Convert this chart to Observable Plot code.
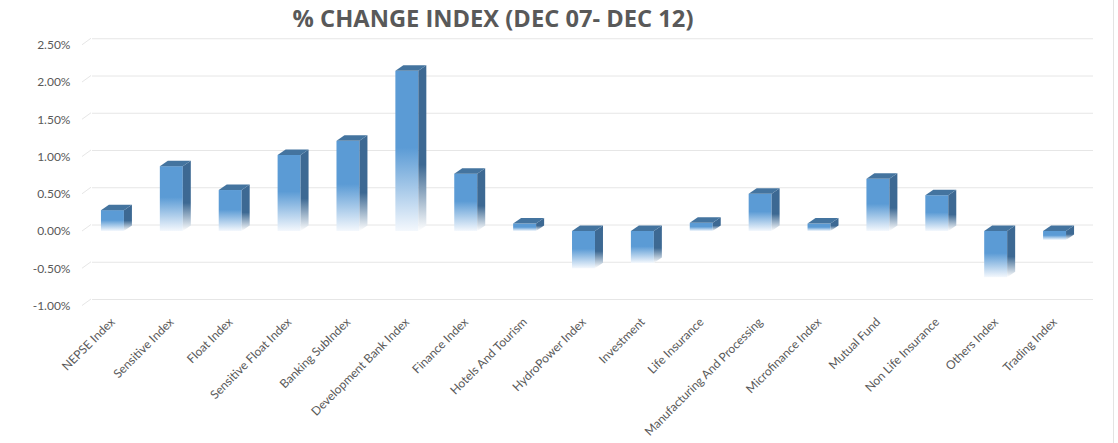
<!DOCTYPE html>
<html><head><meta charset="utf-8">
<script src="https://cdn.jsdelivr.net/npm/d3@7"></script>
<script src="https://cdn.jsdelivr.net/npm/@observablehq/plot@0.6"></script>
<style>
html,body{margin:0;padding:0;background:#fff;}
#wrap{position:relative;width:1118px;height:443px;overflow:hidden;background:#fff;}
#title{width:986px;height:36px;box-sizing:border-box;padding-top:4px;text-align:center;font-family:"Open Sans",sans-serif;font-weight:700;font-size:23.7px;line-height:28px;color:#595959;white-space:nowrap;}
#border{position:absolute;left:1113px;top:0;width:1px;height:443px;background:#e3e3e3;}
</style></head>
<body>
<div id="wrap"><div id="title">% CHANGE INDEX (DEC 07- DEC 12)</div><div id="chart"></div><div id="border"></div></div>
<script>
const categories = ["NEPSE Index","Sensitive Index","Float Index","Sensitive Float Index","Banking SubIndex","Development Bank Index","Finance Index","Hotels And Tourism","HydroPower Index","Investment","Life Insurance","Manufacturing And Processing","Microfinance Index","Mutual Fund","Non Life Insurance","Others Index","Trading Index"];
const values = [0.28, 0.87, 0.55, 1.02, 1.21, 2.15, 0.77, 0.10, -0.50, -0.43, 0.11, 0.50, 0.10, 0.70, 0.48, -0.62, -0.12];
const yTicks = [-1, -0.5, 0, 0.5, 1, 1.5, 2, 2.5];

const data = categories.map((name, i) => ({name, value: values[i]}));
const DX = 8, DY = -5.5;       // bar depth
const GX = 9, GY = -6.5;       // back wall offset

const chart = Plot.plot({
  width: 1118,
  height: 407,
  marginLeft: 83,
  marginRight: 34,
  marginTop: 8.75,
  marginBottom: 137.5,
  style: {fontFamily: "Lato, sans-serif", fontSize: "12px", color: "#595959", background: "#fff"},
  x: {domain: categories, paddingInner: 0.61, paddingOuter: 0.305, round: false, tickRotate: -45, tickSize: 0, tickPadding: 14, label: null},
  y: {domain: [-1, 2.5], ticks: yTicks, tickFormat: d => d.toFixed(2) + "%", tickSize: 0, tickPadding: 13, label: null},
  marks: [
    Plot.ruleY(yTicks, {stroke: "#e6e6e6", strokeWidth: 1, dx: GX, dy: GY}),
    Plot.barY(data, {x: "name", y: "value", fill: "url(#gFront)"})
  ]
});
document.getElementById("chart").appendChild(chart);

const sx = chart.scale("x"), sy = chart.scale("y");
const X = v => sx.apply(v), Y = v => sy.apply(v);
const bw = sx.bandwidth;
const svg = d3.select(chart);
const defs = svg.insert("defs", ":first-child");
function grad(id, stops) {
  const g = defs.append("linearGradient").attr("id", id).attr("x1", 0).attr("y1", 0).attr("x2", 0).attr("y2", 1);
  stops.forEach(([o, c]) => g.append("stop").attr("offset", o).attr("stop-color", c));
}
grad("gFront", [[0, "#5B9BD5"], [0.48, "#5B9BD5"], [1, "#f4f8fd"]]);
grad("gSide", [[0, "#3D6993"], [0.6, "#3D6993"], [1, "#ffffff"]]);

// left diagonal edges joining the labels to the back-wall gridlines
const xl = Math.min(...sx.range);
const gd = svg.insert("g", "g[aria-label='bar']");
yTicks.forEach(t => {
  gd.append("line").attr("x1", xl - 1).attr("y1", Y(t)).attr("x2", xl + GX - 1).attr("y2", Y(t) + GY)
    .attr("stroke", "#e6e6e6");
});

const g3 = svg.append("g");
data.forEach(d => {
  const x0 = X(d.name), x1 = x0 + bw;
  const yt = Y(Math.max(0, d.value)), yb = Y(Math.min(0, d.value));
  g3.append("polygon")
    .attr("points", [[x1, yt], [x1 + DX, yt + DY], [x1 + DX, yb + DY], [x1, yb]].join(" "))
    .attr("fill", "url(#gSide)");
  g3.append("polygon")
    .attr("points", [[x0, yt], [x0 + DX, yt + DY], [x1 + DX, yt + DY], [x1, yt]].join(" "))
    .attr("fill", "#44749F");
});
</script>
</body></html>
